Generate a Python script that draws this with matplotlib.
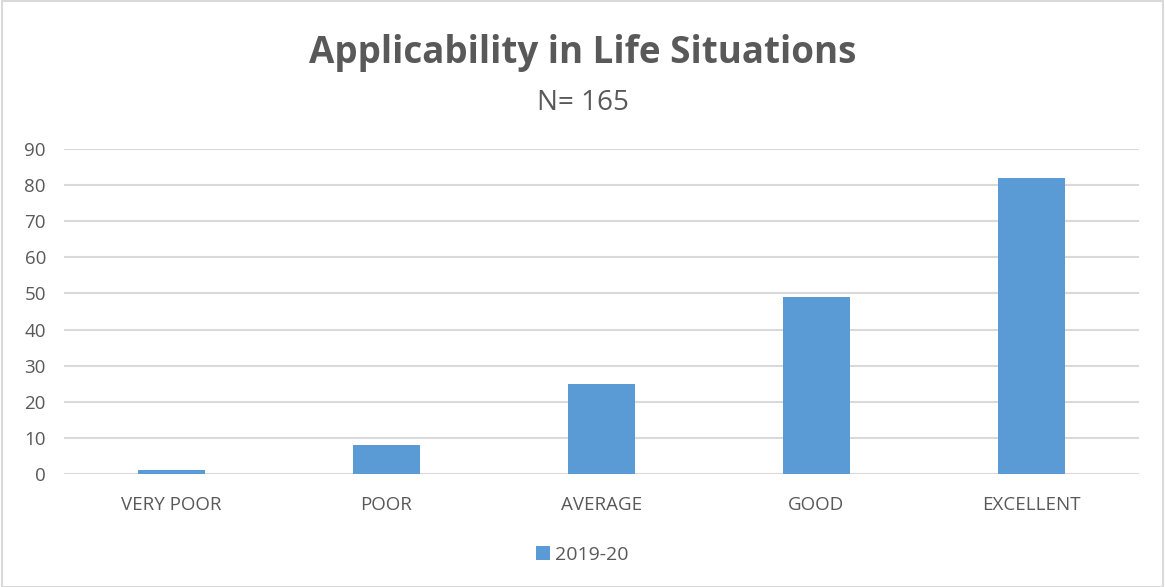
import matplotlib
matplotlib.use("Agg")
import matplotlib.pyplot as plt
from matplotlib.patches import Rectangle

## data
categories = ["VERY POOR", "POOR", "AVERAGE", "GOOD", "EXCELLENT"]
values = [1, 8, 25, 49, 82]
series_name = "2019-20"
yticks = [0, 10, 20, 30, 40, 50, 60, 70, 80, 90]

txt = "#595959"
bar_color = "#5b9bd5"
plt.rcParams["font.family"] = ["Open Sans", "DejaVu Sans"]

fig = plt.figure(figsize=(11.65, 5.87), dpi=100)
ax = fig.add_axes([0.0549, 0.1925, 0.9227, 0.5537])

x = list(range(len(categories)))
ax.bar(x, values, width=0.31, color=bar_color, label=series_name, zorder=3)

ax.set_xlim(-0.5, len(categories) - 0.5)
ax.set_ylim(0, 90)
ax.set_yticks(yticks)
ax.set_xticks(x)
ax.set_xticklabels(categories)
ax.yaxis.grid(True, color="#d9d9d9", linewidth=1.5, zorder=0)
ax.tick_params(axis="both", length=0, labelsize=13.5, colors=txt)
ax.tick_params(axis="x", pad=16)
ax.tick_params(axis="y", pad=13)
for s in ax.spines.values():
    s.set_visible(False)

# title and subtitle
fig.text(0.5, 0.91, "Applicability in Life Situations", ha="center", va="center",
         fontsize=26.5, fontweight="bold", color=txt)
fig.text(0.5, 0.825, "N= 165", ha="center", va="center", fontsize=20, color=txt)

leg = fig.legend(loc="center", bbox_to_anchor=(0.5, 0.055), frameon=False,
                 fontsize=14, handlelength=0.7, handleheight=0.7, handletextpad=0.3)
for t in leg.get_texts():
    t.set_color(txt)

# outer chart border
fig.patches.append(Rectangle((0.002, 0.0), 0.996, 0.998, transform=fig.transFigure,
                             fill=False, edgecolor="#d9d9d9", linewidth=1.5))

fig.savefig("out.png", dpi=100)
